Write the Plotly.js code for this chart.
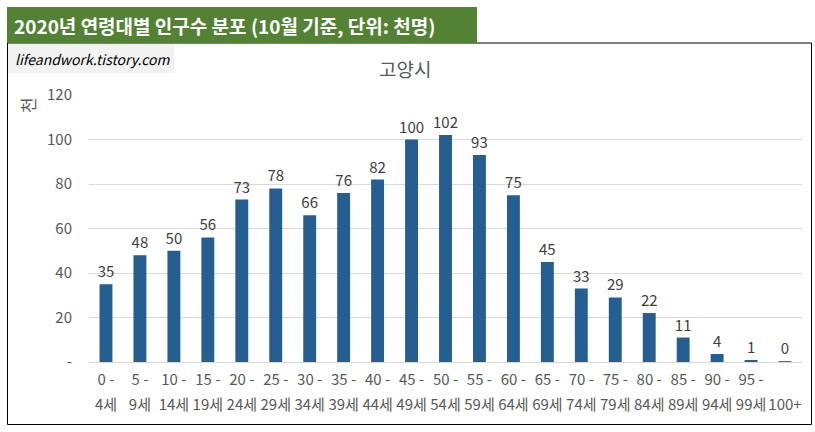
<!DOCTYPE html>
<html>
<head>
<meta charset="utf-8">
<script src="https://cdn.plot.ly/plotly-3.0.1.min.js"></script>
<style>
    html, body { margin: 0; padding: 0; background: #ffffff; }
    #chart { width: 815px; height: 432px; }
</style>
</head>
<body>
<div id="chart"></div>
<script>
// 연령대 (5세 단위)
const ageGroups = ['0-4세', '5-9세', '10-14세', '15-19세', '20-24세', '25-29세', '30-34세',
    '35-39세', '40-44세', '45-49세', '50-54세', '55-59세', '60-64세', '65-69세', '70-74세',
    '75-79세', '80-84세', '85-89세', '90-94세', '95-99세', '100+'];
// x축 라벨 (두 줄로 나눔)
const tickTop = ['0 -', '5 -', '10 -', '15 -', '20 -', '25 -', '30 -', '35 -', '40 -', '45 -',
    '50 -', '55 -', '60 -', '65 -', '70 -', '75 -', '80 -', '85 -', '90 -', '95 -', ''];
const tickBottom = ['4세', '9세', '14세', '19세', '24세', '29세', '34세', '39세', '44세', '49세',
    '54세', '59세', '64세', '69세', '74세', '79세', '84세', '89세', '94세', '99세', '100+'];
// 인구수 (천명)
const population = [35, 48, 50, 56, 73, 78, 66, 76, 82, 100, 102, 93, 75, 45, 33, 29, 22, 11, 3.6, 0.9, 0.4];
// y축 눈금
const yTickVals = [0, 20, 40, 60, 80, 100, 120];
const yTickText = ['-', '20', '40', '60', '80', '100', '120'];

const W = 815, H = 432;
const M = { l: 89, r: 13, t: 95, b: 70 };
// 픽셀 -> paper 좌표
const px = (x) => (x - M.l) / (W - M.l - M.r);
const py = (y) => (H - M.b - y) / (H - M.t - M.b);

const FONT = '"Noto Sans CJK KR", "Noto Sans", sans-serif';
const GREY = '#595959';

const bars = {
    type: 'bar',
    x: ageGroups,
    y: population,
    marker: { color: '#255E91' },
    text: population.map(v => Math.round(v).toString()),
    textposition: 'outside',
    constraintext: 'none',
    textfont: { family: FONT, size: 15, color: '#404040' },
    cliponaxis: false,
    hoverinfo: 'skip'
};

// 두 번째 줄 라벨용 축을 그리기 위한 빈 트레이스
const labelAxis = {
    type: 'scatter',
    mode: 'none',
    x: ageGroups,
    y: population,
    xaxis: 'x2',
    yaxis: 'y',
    hoverinfo: 'skip',
    showlegend: false
};

const tickFont = { family: FONT, size: 15, color: GREY };

const layout = {
    width: W,
    height: H,
    margin: M,
    paper_bgcolor: '#ffffff',
    plot_bgcolor: '#ffffff',
    showlegend: false,
    bargap: 0.62,
    font: { family: FONT, size: 14, color: GREY },
    xaxis: {
        type: 'category',
        tickvals: ageGroups,
        ticktext: tickTop,
        ticks: '',
        showgrid: false,
        showline: false,
        zeroline: false,
        ticklabelstandoff: 7,
        tickfont: tickFont
    },
    xaxis2: {
        type: 'category',
        overlaying: 'x',
        matches: 'x',
        anchor: 'y',
        side: 'bottom',
        tickvals: ageGroups,
        ticktext: tickBottom,
        ticks: '',
        showgrid: false,
        showline: false,
        zeroline: false,
        ticklabelstandoff: 32,
        tickfont: tickFont
    },
    yaxis: {
        range: [0, 120],
        tickvals: yTickVals,
        ticktext: yTickText,
        ticks: '',
        showline: false,
        gridcolor: '#d9d9d9',
        gridwidth: 1,
        zeroline: true,
        zerolinecolor: '#d9d9d9',
        zerolinewidth: 1,
        ticklabelstandoff: 16,
        tickfont: { family: FONT, size: 15, color: GREY }
    },
    shapes: [
        // 차트 테두리
        { type: 'rect', xref: 'paper', yref: 'paper', x0: px(7.5), x1: px(811.5), y0: py(43), y1: py(424.5),
          line: { color: '#000000', width: 1 }, fillcolor: 'rgba(0,0,0,0)', layer: 'below' },
        // 제목 배경
        { type: 'rect', xref: 'paper', yref: 'paper', x0: px(7), x1: px(477), y0: py(7), y1: py(43),
          line: { width: 0 }, fillcolor: '#548235', layer: 'below' },
        // 워터마크 배경
        { type: 'rect', xref: 'paper', yref: 'paper', x0: px(8), x1: px(174), y0: py(44), y1: py(73),
          line: { width: 0 }, fillcolor: '#f2f2f2', layer: 'below' }
    ],
    annotations: [
        { text: '<b>2020년 연령대별 인구수 분포 (10월 기준, 단위: 천명)</b>', xref: 'paper', yref: 'paper',
          x: px(12), y: py(25), xanchor: 'left', yanchor: 'middle', showarrow: false,
          font: { family: FONT, size: 19, color: '#ffffff' } },
        { text: '<i>lifeandwork.tistory.com</i>', xref: 'paper', yref: 'paper',
          x: px(13), y: py(59), xanchor: 'left', yanchor: 'middle', showarrow: false,
          font: { family: FONT, size: 14, color: '#000000' } },
        { text: '고양시', xref: 'paper', yref: 'paper',
          x: px(405), y: py(68), xanchor: 'center', yanchor: 'middle', showarrow: false,
          font: { family: FONT, size: 19, color: GREY } },
        { text: '천', xref: 'paper', yref: 'paper', textangle: -90,
          x: px(27), y: py(105), xanchor: 'center', yanchor: 'middle', showarrow: false,
          font: { family: FONT, size: 17, color: GREY } }
    ]
};

Plotly.newPlot('chart', [bars, labelAxis], layout, { displayModeBar: false, staticPlot: true });
</script>
</body>
</html>
